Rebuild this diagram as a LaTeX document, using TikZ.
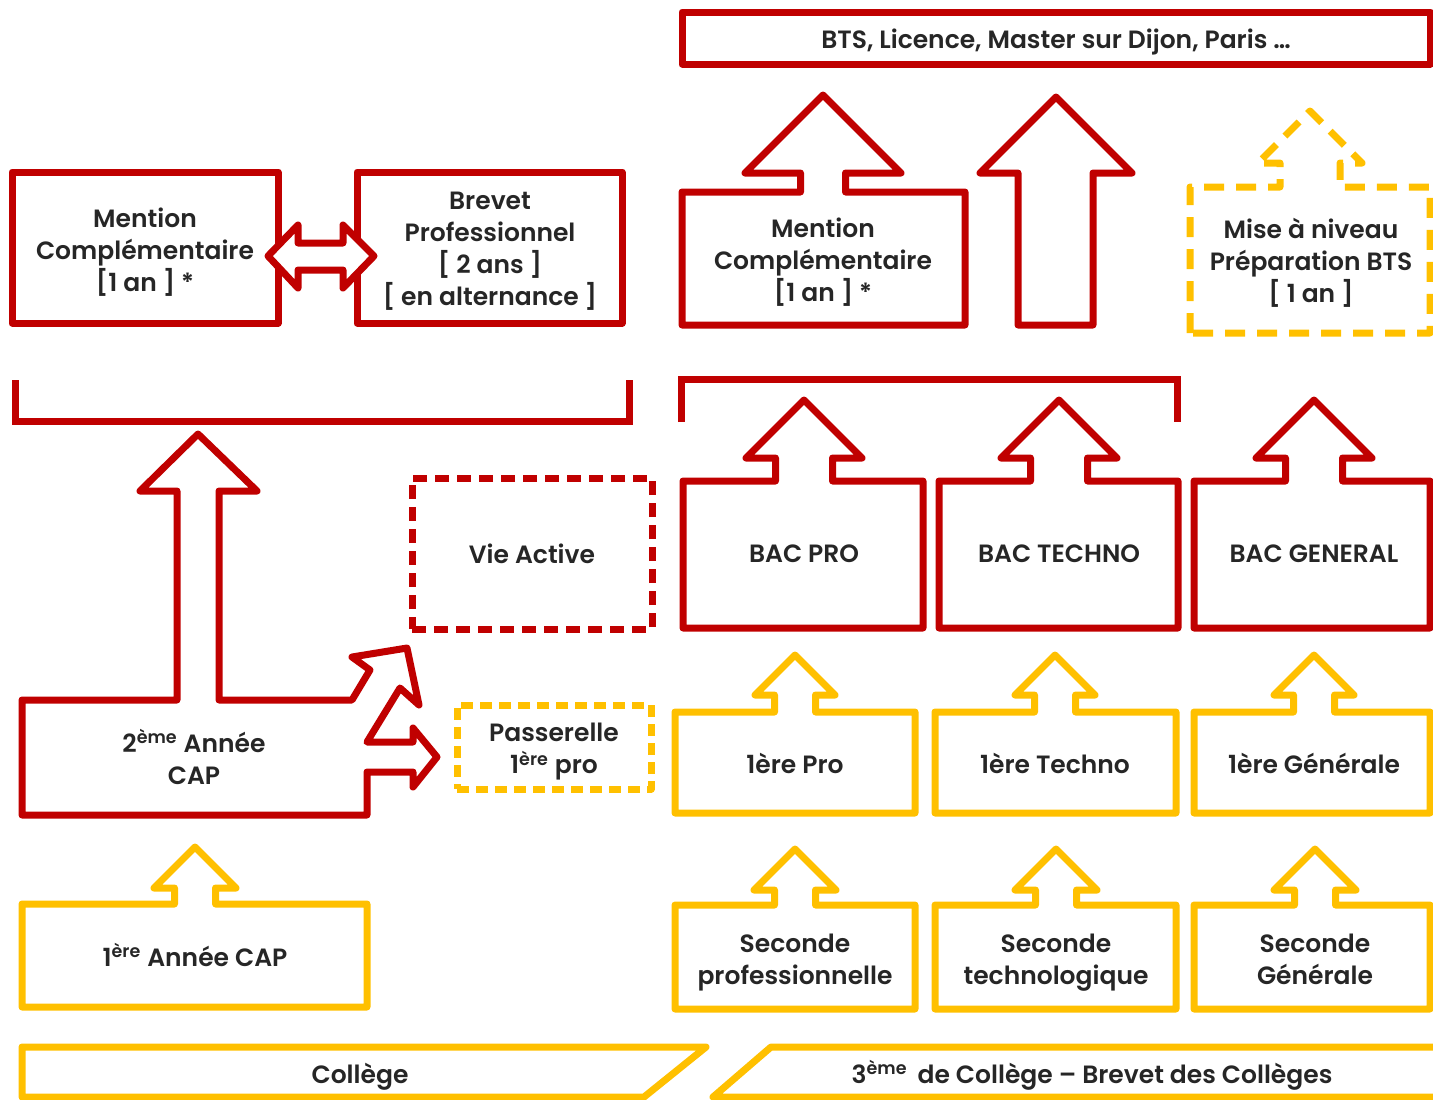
\documentclass[tikz,border=0pt]{standalone}
\usepackage{fontspec}
\setmainfont{Poppins}[BoldFont={Poppins SemiBold}]
\usetikzlibrary{positioning}

\definecolor{capred}{HTML}{C00000}
\definecolor{capyellow}{HTML}{FFC000}
\definecolor{captext}{HTML}{262626}

% box with an up arrow on top: style, left, right, top, bottom, centre, shaft, head, gap
\newcommand{\upbox}[9]{%
  \draw[#1] (#2,#5) -- (#2,#4) -- ({#6-#7},#4) -- ({#6-#7},{#4-#9})
    -- ({#6-#8},{#4-#9}) -- (#6,{#4-#9-#8}) -- ({#6+#8},{#4-#9})
    -- ({#6+#7},{#4-#9}) -- ({#6+#7},#4) -- (#3,#4) -- (#3,#5) -- cycle;}

\begin{document}
\begin{tikzpicture}[x=0.5pt, y=-0.5pt,
    redline/.style={draw=capred, line width=3.5pt, line join=round},
    yellowline/.style={draw=capyellow, line width=3.5pt, line join=round},
    reddash/.style={redline, dash pattern=on 7pt off 4pt},
    yellowdash/.style={yellowline, dash pattern=on 6pt off 3.5pt},
    widedash/.style={yellowline, dash pattern=on 10pt off 6pt},
    boxtext/.style={text=captext, font=\bfseries\fontsize{12.5}{16}\selectfont, align=center, inner sep=0pt}]

\useasboundingbox (0,0) rectangle (1433,1099);

% top row
\node [redline, minimum width=374pt, minimum height=26pt] (studies) at (1056,38) {};
\node [boxtext] at (1056,42) {BTS, Licence, Master sur Dijon, Paris \dots};

\node [redline, minimum width=133pt, minimum height=75.5pt] (mcleft) at (145,247.5) {};
\node [redline, minimum width=132.5pt, minimum height=75.5pt] (bp) at (489.5,247.5) {};
\node [boxtext] at (145,252) {Mention\\Complémentaire\\{[1 an ] *}};
\node [boxtext] at (490,251.5) {Brevet\\Professionnel\\{[ 2 ans ]}\\{[ en alternance ]}};
\draw [redline, fill=white] (268,256) -- (298,225) -- (298,243) -- (343,243) -- (343,225)
  -- (374,256) -- (343,288) -- (343,270) -- (298,270) -- (298,288) -- cycle;

\upbox{redline}{682}{965}{192}{325}{823}{22.5}{78}{19}
\node [boxtext] (mcright) at (823,262) {Mention\\Complémentaire\\{[1 an ] *}};
\draw [redline] (1018,325) -- (1018,173) -- (980,173) -- (1056,97) -- (1132,173)
  -- (1093,173) -- (1093,325) -- cycle;

\upbox{widedash}{1190}{1430}{187}{333}{1310}{30}{52}{24}
\node [boxtext] (mise) at (1311,263) {Mise à niveau\\Préparation BTS\\{[ 1 an ]}};

% brackets
\draw [redline, line join=miter] (15,380) -- (15,421) -- (629,421) -- (629,380);
\draw [redline, line join=miter] (681,422) -- (681,379) -- (1177,379) -- (1177,422);

% bac row
\upbox{redline}{683}{923}{481}{628}{804}{28.5}{58}{23}
\upbox{redline}{939}{1178}{481}{628}{1059}{28.5}{58}{23}
\upbox{redline}{1194}{1430}{481}{628}{1314}{28.5}{58}{23}
\node [boxtext] (bacpro) at (804,554) {BAC PRO};
\node [boxtext] (bactechno) at (1059,554) {BAC TECHNO};
\node [boxtext] (bacgeneral) at (1314,554) {BAC GENERAL};

\node [reddash, minimum width=120pt, minimum height=75.5pt] (vie) at (532,553.5) {};
\node [boxtext] at (vie) {Vie Active};

% 2eme annee CAP
\draw [redline] (22,700) -- (177,700) -- (177,491) -- (140,491) -- (198,434) -- (257,491)
  -- (219,491) -- (219,700) -- (352,700) -- (370,670) -- (352,657) -- (407,648)
  -- (419,705) -- (400,688) -- (367,742) -- (413,742) -- (413,728) -- (437,757)
  -- (413,787) -- (413,772) -- (367,772) -- (367,815) -- (22,815) -- cycle;
\node [boxtext] (deuxcap) at (194,757) {2\textsuperscript{ème} Année\\CAP};

\node [yellowdash, minimum width=97pt, minimum height=42pt] (passerelle) at (554,747) {};
\node [boxtext] at (554,752) {Passerelle\\1\textsuperscript{ère} pro};

% premiere row
\upbox{yellowline}{675}{915}{712}{813}{795}{20.5}{40}{17}
\upbox{yellowline}{935}{1176}{712}{813}{1055}{20.5}{40}{17}
\upbox{yellowline}{1194}{1430}{712}{813}{1314}{20.5}{40}{17}
\node [boxtext] (prempro) at (795,763) {1ère Pro};
\node [boxtext] (premtechno) at (1055,763) {1ère Techno};
\node [boxtext] (premgen) at (1314,763) {1ère Générale};

% seconde row
\upbox{yellowline}{22}{367}{904}{1007}{195}{20.5}{41}{16}
\upbox{yellowline}{675}{915}{905}{1009}{795}{20.5}{41}{15}
\upbox{yellowline}{935}{1176}{905}{1009}{1056}{20.5}{41}{15}
\upbox{yellowline}{1194}{1430}{905}{1009}{1315}{20.5}{41}{15}
\node [boxtext] (unecap) at (195,955) {1\textsuperscript{ère} Année CAP};
\node [boxtext] (secpro) at (795,963) {Seconde\\professionnelle};
\node [boxtext] (sectechno) at (1056,963) {Seconde\\technologique};
\node [boxtext] (secgen) at (1315,959) {Seconde\\Générale};

% college
\draw [yellowline] (22,1097) -- (22,1047) -- (706,1047) -- (644,1097) -- cycle;
\draw [yellowline] (713,1097) -- (771,1047) -- (1440,1047) -- (1440,1097) -- cycle;
\node [boxtext] (college) at (360,1077) {Collège};
\node [boxtext] (troisieme) at (1092,1075) {3\textsuperscript{ème}\, de Collège – Brevet des Collèges};

\end{tikzpicture}
\end{document}
